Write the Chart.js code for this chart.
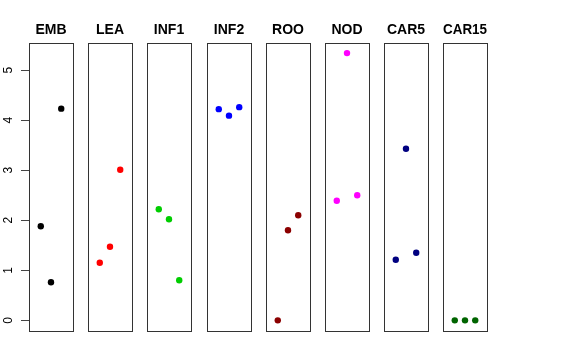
<!DOCTYPE html>
<html lang="en">
<head>
  <meta charset="UTF-8" />
  <title>Panels</title>
  <script src="https://cdn.jsdelivr.net/npm/chart.js"></script>
  <style>
    body {
      margin: 0;
      background: #fff;
    }
    #wrap {
      position: relative;
      width: 576px;
      height: 360px;
      overflow: hidden;
    }
    #wrap canvas {
      position: absolute;
      top: 0;
    }
  </style>
</head>
<body>
<div id="wrap"></div>

<script>
const panels = ["EMB", "LEA", "INF1", "INF2", "ROO", "NOD", "CAR5", "CAR15"];
const xPos = [1, 2, 3];
const emb = [1.88, 0.76, 4.23];
const lea = [1.15, 1.47, 3.01];
const inf1 = [2.22, 2.02, 0.80];
const inf2 = [4.22, 4.09, 4.26];
const roo = [0.00, 1.80, 2.10];
const nod = [2.39, 5.34, 2.50];
const car5 = [1.21, 3.43, 1.35];
const car15 = [0.00, 0.00, 0.00];
const yTicks = [0, 1, 2, 3, 4, 5];

const series = [emb, lea, inf1, inf2, roo, nod, car5, car15];
const colors = ["#000000", "#ff0000", "#00cd00", "#0000ff", "#8b0000", "#ff00ff", "#000080", "#006400"];

const FONT = "'Liberation Sans', Arial, sans-serif";
const boxLeft0 = 29;
const boxStep = 59.19;
const boxW = 44.4;

// box round each panel, like R's box()
const boxPlugin = {
  id: "panelBox",
  afterDraw(chart) {
    const a = chart.chartArea;
    const c = chart.ctx;
    c.save();
    c.strokeStyle = "#333";
    c.lineWidth = 1;
    c.strokeRect(Math.round(a.left) + 0.5, Math.round(a.top) + 0.5,
                 Math.round(a.right - a.left), Math.round(a.bottom - a.top));
    c.restore();
  }
};

const wrap = document.getElementById("wrap");

panels.forEach((name, i) => {
  const first = i === 0;
  const left = boxLeft0 + i * boxStep;
  const canvas = document.createElement("canvas");
  let cLeft, cWidth, pad;
  if (first) {
    // axis on the left, an empty spacer axis on the right keeps the title centred
    cLeft = 0;
    cWidth = Math.round(left + boxW + left);
    pad = { left: 0, right: 0, top: 22, bottom: 29 };
  } else {
    cLeft = Math.round(left - 10);
    cWidth = Math.round(boxW + 20);
    pad = { left: 10, right: 10, top: 22, bottom: 29 };
  }
  canvas.width = cWidth;
  canvas.height = 360;
  canvas.style.left = cLeft + "px";
  wrap.appendChild(canvas);

  const scales = {
    x: {
      type: "linear",
      display: false,
      min: -0.15,
      max: 4.15
    },
    y: {
      type: "linear",
      display: first,
      min: -0.213,
      max: 5.546,
      afterBuildTicks: s => { s.ticks = yTicks.map(v => ({ value: v })); },
      border: { display: false },
      grid: {
        drawOnChartArea: false,
        drawTicks: true,
        tickLength: 8,
        color: "#444"
      },
      ticks: {
        minRotation: 90,
        maxRotation: 90,
        crossAlign: "center",
        padding: 9,
        color: "#000",
        font: { family: FONT, size: 12 }
      }
    }
  };
  if (first) {
    scales.y.afterFit = s => { s.width = boxLeft0; };
    scales.y2 = {
      type: "linear",
      position: "right",
      display: true,
      min: -0.213,
      max: 5.546,
      border: { display: false },
      grid: { display: false },
      ticks: { display: false },
      afterFit: s => { s.width = boxLeft0; }
    };
  }

  new Chart(canvas.getContext("2d"), {
    type: "scatter",
    data: {
      datasets: [{
        data: xPos.map((x, j) => ({ x: x, y: series[i][j] })),
        backgroundColor: colors[i],
        borderColor: colors[i],
        pointRadius: 3.2,
        borderWidth: 0
      }]
    },
    options: {
      responsive: false,
      animation: false,
      devicePixelRatio: 1,
      layout: { padding: pad },
      plugins: {
        legend: { display: false },
        tooltip: { enabled: false },
        title: {
          display: true,
          text: name,
          color: "#000",
          font: { family: FONT, size: 14, weight: "bold" },
          padding: { top: 0, bottom: 4 }
        }
      },
      scales: scales
    },
    plugins: [boxPlugin]
  });
});
</script>
</body>
</html>
